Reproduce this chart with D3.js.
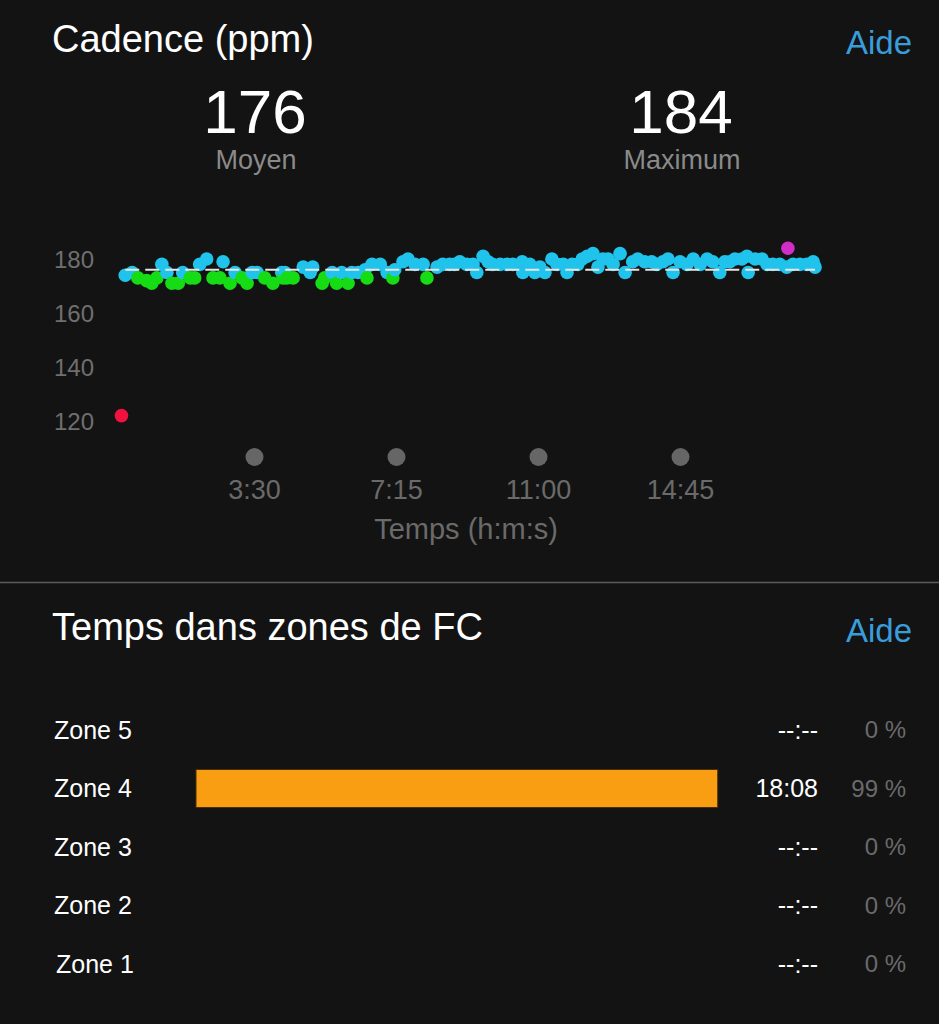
<!DOCTYPE html>
<html>
<head>
<meta charset="utf-8">
<script src="https://cdn.jsdelivr.net/npm/d3@7/dist/d3.min.js"></script>
<style>
  html, body { margin: 0; padding: 0; background: #131313; }
  svg { display: block; }
  text { font-family: "Liberation Sans", Arial, Helvetica, sans-serif; }
</style>
</head>
<body>
<svg id="chart" width="939" height="1024"></svg>
<script>
// ---- Data ----
// cadence samples: time (s) and cadence (ppm)
const times = [0, 6, 17, 26, 40, 48, 56, 64, 72, 80, 90, 97, 109, 116, 124, 135, 145, 156, 161, 172,
  180, 191, 199, 207, 215, 227, 240, 254, 256, 259, 262, 272, 288, 299, 303, 318, 322, 334, 341, 349,
  359, 365, 375, 386, 389, 397, 410, 421, 430, 433, 446, 454, 465, 478, 484, 500, 509, 520, 528, 536,
  547, 557, 563, 573, 581, 588, 600, 611, 620, 635, 636, 647, 655, 663, 671, 682, 690, 700, 706, 714,
  723, 730, 738, 747, 755, 763, 771, 779, 790, 798, 810, 818, 829, 840, 848, 858, 866, 874, 885, 896,
  906, 917, 928, 937, 948, 956, 964, 972, 983, 991, 993, 1004, 1015, 1023, 1032, 1043, 1054, 1056, 1064, 1075,
  1086, 1096, 1099];
const cadence = [122, 174, 175, 173, 172, 171, 173, 178, 175, 171, 171, 175, 173, 173, 178, 180, 173, 173, 179, 171,
  175, 173, 171, 175, 175, 173, 171, 175, 173, 175, 173, 173, 177, 175, 177, 171, 173, 175, 171, 175,
  171, 175, 175, 176, 173, 178, 178, 175, 173, 176, 179, 180, 178, 178, 173, 177, 178, 178, 178, 179,
  178, 178, 175, 181, 179, 178, 178, 178, 178, 179, 175, 178, 175, 177, 175, 180, 178, 178, 175, 178,
  178, 180, 181, 182, 177, 180, 180, 178, 182, 175, 179, 180, 179, 179, 178, 179, 180, 175, 179, 178,
  180, 178, 180, 179, 175, 179, 179, 180, 180, 181, 175, 180, 180, 178, 178, 178, 177, 184, 178, 178,
  178, 179, 177];
const avgCadence = 176;
const maxCadence = 184;
const yTicks = [120, 140, 160, 180];
const xTicks = [210, 435, 660, 885];
const xTickLabels = ["3:30", "7:15", "11:00", "14:45"];
const cadenceZoneBreaks = [153, 164, 174, 184];
const cadenceZoneColors = ["#f0113f", "#f7941d", "#16dc16", "#1fc3ec", "#cf2fc6"];

const zones = ["Zone 5", "Zone 4", "Zone 3", "Zone 2", "Zone 1"];
const zoneTimes = ["--:--", "18:08", "--:--", "--:--", "--:--"];
const zonePercents = [0, 99, 0, 0, 0];

// ---- Drawing ----
const svg = d3.select("#chart");
const W = 939;

svg.append("rect").attr("width", W).attr("height", 1024).attr("fill", "#131313");

// Header
svg.append("text").attr("x", 52).attr("y", 52).attr("font-size", 38).attr("fill", "#ffffff").text("Cadence (ppm)");
svg.append("text").attr("x", 912).attr("y", 54).attr("text-anchor", "end").attr("font-size", 33).attr("fill", "#3a9ddb").text("Aide");

svg.append("text").attr("x", 255).attr("y", 133).attr("text-anchor", "middle").attr("font-size", 62).attr("fill", "#ffffff").text(avgCadence);
svg.append("text").attr("x", 256).attr("y", 169).attr("text-anchor", "middle").attr("font-size", 27).attr("fill", "#8a8a8a").text("Moyen");
svg.append("text").attr("x", 681).attr("y", 133).attr("text-anchor", "middle").attr("font-size", 62).attr("fill", "#ffffff").text(maxCadence);
svg.append("text").attr("x", 682).attr("y", 169).attr("text-anchor", "middle").attr("font-size", 27).attr("fill", "#8a8a8a").text("Maximum");

// Scales
const x = d3.scaleLinear().domain([210, 885]).range([254, 680]);
const y = d3.scaleLinear().domain([120, 180]).range([421, 259]);
const color = d3.scaleThreshold().domain(cadenceZoneBreaks).range(cadenceZoneColors);

// Y axis labels
const yAxis = svg.append("g").attr("transform", "translate(54,0)")
  .call(d3.axisLeft(y).tickValues(yTicks).tickSize(0).tickPadding(0));
yAxis.select(".domain").remove();
yAxis.selectAll("text").attr("text-anchor", "start").attr("x", 0).attr("dy", "0.35em")
  .attr("font-size", 24).attr("fill", "#6f6f6f").attr("font-family", null);

// X axis: dots + labels
const xAxis = svg.append("g").attr("transform", "translate(0,457)")
  .call(d3.axisBottom(x).tickValues(xTicks).tickSize(0).tickPadding(0)
    .tickFormat((d, i) => xTickLabels[i]));
xAxis.select(".domain").remove();
xAxis.selectAll(".tick").append("circle").attr("r", 9).attr("fill", "#666666");
xAxis.selectAll("text").attr("y", 42).attr("dy", 0).attr("font-size", 27).attr("fill", "#6a6a6a").attr("font-family", null);

svg.append("text").attr("x", 466).attr("y", 539).attr("text-anchor", "middle").attr("font-size", 29).attr("fill", "#6a6a6a").text("Temps (h:m:s)");

// Points
const pts = times.map((t, i) => ({ t, v: cadence[i] }));
svg.append("g").selectAll("circle").data(pts).join("circle")
  .attr("cx", d => x(d.t)).attr("cy", d => y(d.v)).attr("r", 6.8)
  .attr("fill", d => color(d.v));

// Average dashed line
svg.append("line")
  .attr("x1", x(times[1])).attr("x2", x(times[times.length - 1]))
  .attr("y1", y(avgCadence)).attr("y2", y(avgCadence))
  .attr("stroke", "#e6e6e6").attr("stroke-width", 2).attr("stroke-dasharray", "14,6");

// Separator
svg.append("line").attr("x1", 0).attr("x2", W).attr("y1", 582.5).attr("y2", 582.5)
  .attr("stroke", "#5c5c5c").attr("stroke-width", 1.5);

// Zones section
svg.append("text").attr("x", 52).attr("y", 640).attr("font-size", 38).attr("fill", "#ffffff").text("Temps dans zones de FC");
svg.append("text").attr("x", 912).attr("y", 642).attr("text-anchor", "end").attr("font-size", 33).attr("fill", "#3a9ddb").text("Aide");

const zy = d3.scalePoint().domain(zones).range([730, 964]);
const zx = d3.scaleLinear().domain([0, 100]).range([196, 723]);

const rows = svg.append("g").selectAll("g").data(zones).join("g")
  .attr("transform", d => `translate(0,${zy(d)})`);

rows.append("text").attr("x", (d, i) => i === 4 ? 56 : 54).attr("dy", "0.35em")
  .attr("font-size", 25).attr("fill", "#ffffff").text(d => d);

rows.filter((d, i) => zonePercents[i] > 0).append("rect")
  .attr("x", zx(0)).attr("y", -19)
  .attr("width", (d) => zx(zonePercents[zones.indexOf(d)]) - zx(0)).attr("height", 38)
  .attr("fill", "#f99d12").attr("stroke", "#4a2e05").attr("stroke-width", 1);

rows.append("text").attr("x", 818).attr("dy", "0.35em").attr("text-anchor", "end")
  .attr("font-size", 25).attr("fill", "#ffffff").text((d, i) => zoneTimes[i]);

rows.append("text").attr("x", 906).attr("dy", "0.35em").attr("text-anchor", "end")
  .attr("font-size", 24).attr("fill", "#6a6a6a").text((d, i) => zonePercents[i] + " %");
</script>
</body>
</html>
